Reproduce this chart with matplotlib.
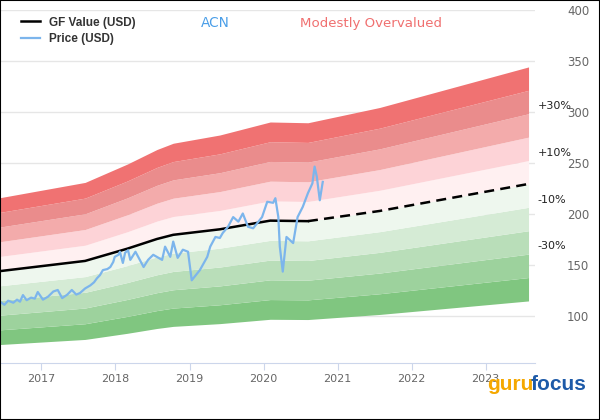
import matplotlib
matplotlib.use("Agg")
import matplotlib.pyplot as plt

# GF Value (USD) knots, decimal year
gf_year = [2016.44, 2017.59, 2018.16, 2018.56, 2018.78, 2019.41, 2020.09, 2020.60]
gf_value = [144, 154, 166, 175.5, 179.6, 185, 193.5, 193]
# projected part (dashed)
proj_year = [2020.60, 2021.57, 2023.58]
proj_value = [193, 203, 229.5]

# price (USD)
price_year = [2016.44, 2016.50, 2016.55, 2016.62, 2016.67, 2016.71, 2016.75, 2016.80,
              2016.86, 2016.91, 2016.95, 2017.02, 2017.09, 2017.16, 2017.22, 2017.28,
              2017.35, 2017.41, 2017.47, 2017.52, 2017.59, 2017.66, 2017.71, 2017.75,
              2017.79, 2017.83, 2017.89, 2017.93, 2017.97, 2017.99, 2018.04, 2018.06,
              2018.10, 2018.13, 2018.17, 2018.20, 2018.27, 2018.38, 2018.44, 2018.51,
              2018.63, 2018.67, 2018.74, 2018.78, 2018.84, 2018.91, 2018.98, 2019.03,
              2019.14, 2019.24, 2019.28, 2019.35, 2019.41, 2019.45, 2019.52, 2019.59,
              2019.66, 2019.72, 2019.79, 2019.86, 2019.98, 2020.05, 2020.13, 2020.16,
              2020.20, 2020.22, 2020.26, 2020.31, 2020.40, 2020.46, 2020.53, 2020.60,
              2020.66, 2020.69, 2020.72, 2020.76, 2020.80]
price = [114, 111, 115, 113, 116, 114, 120.5, 115.5,
         118, 117, 123.5, 116, 119, 124, 125.5, 117.5,
         121, 125.5, 121, 122.5, 127, 130, 133, 137,
         140, 145, 146, 148, 153, 158, 160, 163,
         152, 162, 164.5, 155, 163, 148, 155, 160,
         155, 168, 158, 173, 157, 165, 163, 135,
         145, 158, 168, 177.5, 176.5, 181.5, 187.5, 197,
         192.5, 200.5, 187.5, 186, 197, 212, 211, 215.5,
         197, 168, 143.5, 177.5, 171.5, 197, 207, 220.5,
         230, 246.5, 236.5, 213.5, 231.5]

band_mult = [0.5, 0.6, 0.7, 0.8, 0.9, 1.0, 1.1, 1.2, 1.3, 1.4, 1.5]
band_colors = ["#80c680", "#9dd29d", "#b9deb9", "#d5ebd5", "#eef7ee",
               "#fff0f1", "#fdd3d7", "#f3abab", "#ea8c8c", "#f07272"]
band_labels = ["-30%", "-10%", "+10%", "+30%"]
band_label_mult = [0.7, 0.9, 1.1, 1.3]

years = [2017, 2018, 2019, 2020, 2021, 2022, 2023]
yticks = [100, 150, 200, 250, 300, 350, 400]

fig = plt.figure(figsize=(6, 4.2), dpi=100)
ax = fig.add_axes([0, 0.136, 0.892, 0.84])

all_year = gf_year + proj_year[1:]
all_value = gf_value + proj_value[1:]
for i in range(len(band_colors)):
    lo = [v * band_mult[i] for v in all_value]
    hi = [v * band_mult[i + 1] for v in all_value]
    ax.fill_between(all_year, lo, hi, color=band_colors[i], lw=0, zorder=2)

ax.plot(gf_year, gf_value, color="black", lw=1.8, zorder=4, label="GF Value (USD)")
ax.plot(proj_year, proj_value, color="black", lw=1.8, ls=(0, (4, 2.5)), zorder=4)
ax.plot(price_year, price, color="#7cb5ec", lw=1.6, zorder=5, label="Price (USD)")

for lab, m in zip(band_labels, band_label_mult):
    ax.annotate(lab, xy=(1.005, proj_value[-1] * m), xycoords=("axes fraction", "data"),
                xytext=(0, 2), textcoords="offset points", fontsize=8, color="#222222",
                ha="left", va="bottom", annotation_clip=False)

ax.set_xlim(2016.44, 2023.67)
ax.set_ylim(54, 400)
ax.set_xticks(years)
ax.set_xticklabels([str(y) for y in years], fontsize=8, color="#666666")
ax.set_yticks(yticks)
ax.yaxis.tick_right()
ax.set_yticklabels([str(v) for v in yticks], fontsize=8.5, color="#666666")
ax.tick_params(axis="y", length=0, pad=23)
ax.tick_params(axis="x", length=5, color="#ccd6eb", pad=3)
ax.grid(axis="y", color="#e6e6e6", lw=1, zorder=1)
ax.set_axisbelow(True)
for s in ["top", "left", "right"]:
    ax.spines[s].set_visible(False)
ax.spines["bottom"].set_color("#ccd6eb")

leg = ax.legend(loc="upper left", bbox_to_anchor=(0.03, 0.995), frameon=True,
                facecolor="white", edgecolor="white", framealpha=1,
                prop={"family": "Liberation Sans", "weight": "bold", "size": 8.5},
                handlelength=1.6, borderaxespad=0, labelspacing=0.35)
for t in leg.get_texts():
    t.set_color("#333333")

fig.text(0.335, 0.945, "ACN", color="#4a9ee8", fontsize=9.8, ha="left", va="center")
fig.text(0.50, 0.945, "Modestly Overvalued", color="#f07070", fontsize=9.6,
         ha="left", va="center")

fig.text(0.812, 0.085, "guru", color="#f5a800", fontsize=15, fontweight="bold",
         ha="left", va="center", family=["Liberation Sans", "DejaVu Sans"])
fig.text(0.884, 0.085, "focus", color="#1d5aa8", fontsize=15, fontweight="bold",
         ha="left", va="center", family=["Liberation Sans", "DejaVu Sans"])

fig.patches.append(plt.Rectangle((0, 0), 1, 1, transform=fig.transFigure, fill=False,
                                 edgecolor="black", lw=1.5))
fig.savefig("out.png", dpi=100)
